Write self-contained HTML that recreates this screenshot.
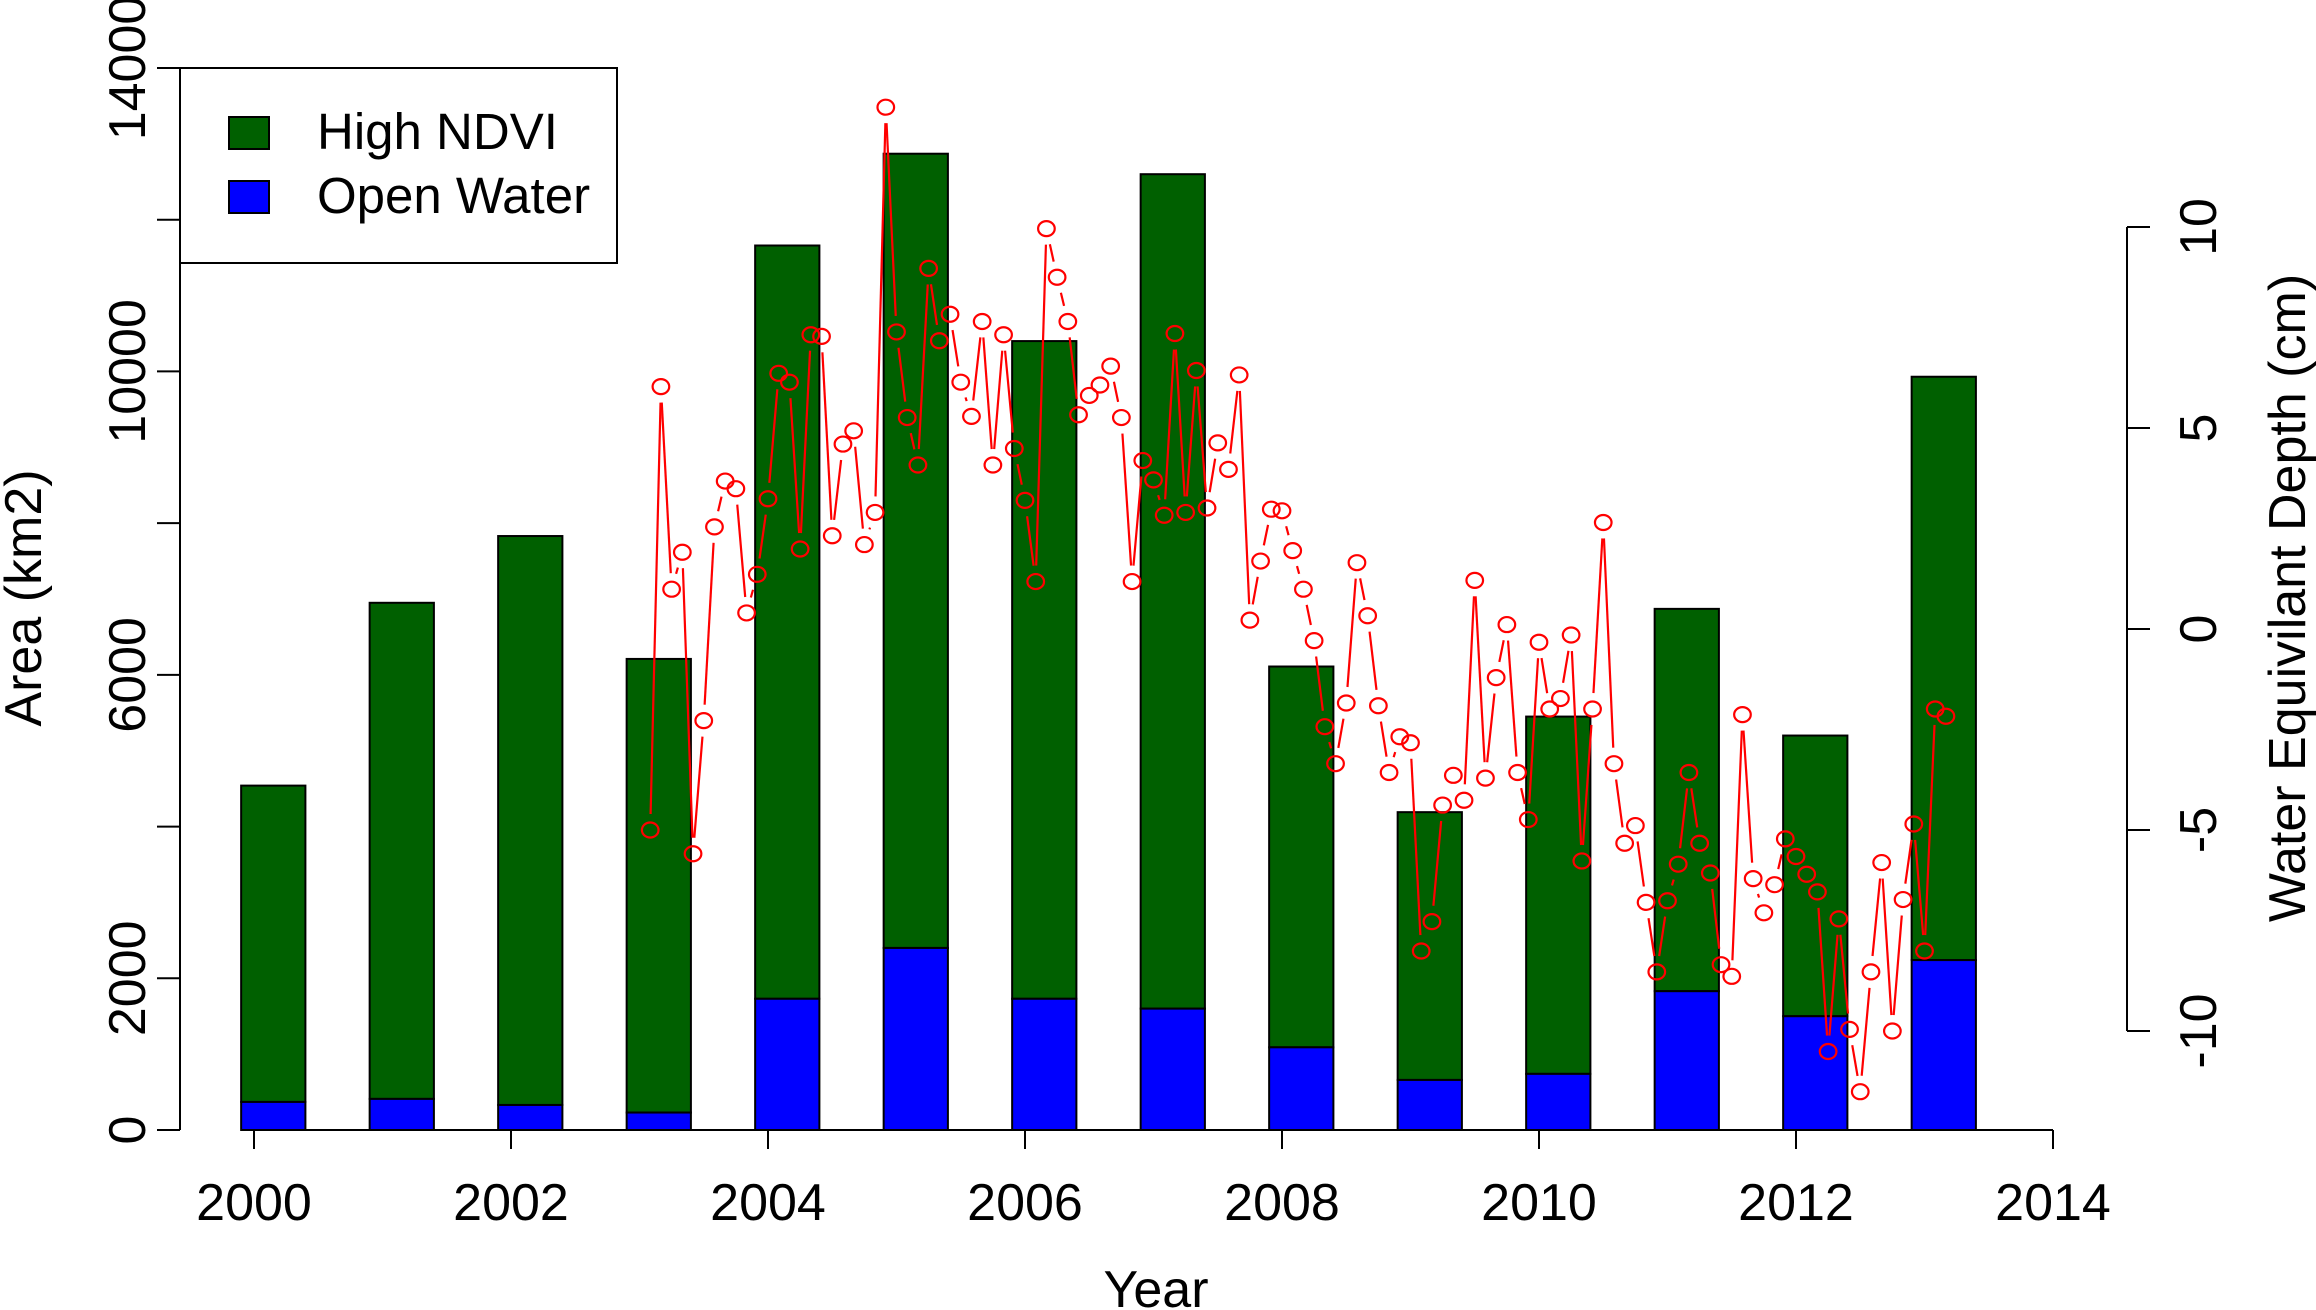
<!DOCTYPE html>
<html><head><meta charset="utf-8">
<style>
html,body{margin:0;padding:0;background:#fff;}
svg{display:block;font-family:"Liberation Sans",Arial,sans-serif;}
</style></head>
<body>
<svg id="chart" width="2316" height="1310" viewBox="0 0 2316 1310" xmlns="http://www.w3.org/2000/svg">
<g id="bars"></g>
<g id="series"></g>
<g id="axes"></g>
<g>
  <rect x="180" y="68" width="437" height="195" fill="#fff" stroke="#000" stroke-width="2"/>
  <rect x="229" y="117" width="40" height="32" fill="#006000" stroke="#000" stroke-width="2"/>
  <text x="317" y="149" font-size="51">High NDVI</text>
  <rect x="229" y="181" width="40" height="32" fill="#0000ff" stroke="#000" stroke-width="2"/>
  <text x="317" y="213" font-size="51">Open Water</text>
</g>
</svg>
<script>
const years = [2000,2001,2002,2003,2004,2005,2006,2007,2008,2009,2010,2011,2012,2013];
const totalArea = [4540,6950,7830,6210,11660,12870,10400,12600,6110,4190,5450,6870,5200,9930];
const openWater = [370,410,330,230,1730,2400,1730,1600,1090,660,740,1830,1500,2240];
const leftTicks = [0,2000,6000,10000,14000];
const leftTickMarks = [0,2000,4000,6000,8000,10000,12000,14000];
const xTicks = [2000,2002,2004,2006,2008,2010,2012,2014];
const rightTicks = [-10,-5,0,5,10];
const depthStart = 2003 + 1/12;
const depth = [-5.0,6.03,0.99,1.91,-5.59,-2.28,2.54,3.68,3.49,0.40,1.36,3.24,6.36,6.14,1.99,7.32,7.28,2.32,4.60,4.93,2.10,2.90,12.98,7.39,5.26,4.08,8.97,7.17,7.83,6.14,5.29,7.65,4.08,7.32,4.49,3.20,1.18,9.96,8.75,7.65,5.33,5.81,6.07,6.54,5.26,1.18,4.19,3.71,2.83,7.35,2.90,6.43,3.01,4.63,3.97,6.32,0.22,1.69,2.98,2.94,1.95,0.99,-0.29,-2.43,-3.35,-1.84,1.65,0.33,-1.91,-3.57,-2.68,-2.83,-8.01,-7.28,-4.38,-3.64,-4.26,1.21,-3.71,-1.21,0.11,-3.57,-4.74,-0.33,-1.99,-1.73,-0.15,-5.77,-1.99,2.65,-3.35,-5.33,-4.89,-6.80,-8.53,-6.76,-5.85,-3.57,-5.33,-6.07,-8.35,-8.64,-2.13,-6.21,-7.06,-6.36,-5.22,-5.66,-6.10,-6.54,-10.51,-7.21,-9.96,-11.51,-8.53,-5.81,-10.0,-6.73,-4.85,-8.01,-1.99,-2.17];

const NS="http://www.w3.org/2000/svg";
function X(t){return 254 + (t-2000)*(2053-254)/14;}
function YL(v){return 1130 - v*(1130-68)/14000;}
function YR(v){return 629 - v*(1031-227)/20;}
function mk(tag,attrs,parent){const e=document.createElementNS(NS,tag);for(const k in attrs)e.setAttribute(k,attrs[k]);parent.appendChild(e);return e;}

const gb=document.getElementById('bars');
years.forEach((y,i)=>{
  const x0=X(y-0.1), w=X(y+0.4)-x0;
  const g=mk('rect',{x:x0,y:YL(totalArea[i]),width:w,height:YL(openWater[i])-YL(totalArea[i]),fill:'#006000',stroke:'#000','stroke-width':2},gb);
  
  
  const b=mk('rect',{x:x0,y:YL(openWater[i]),width:w,height:YL(0)-YL(openWater[i]),fill:'#0000ff',stroke:'#000','stroke-width':2},gb);
  
  
});

const gs=document.getElementById('series');
const pts=depth.map((v,k)=>[X(depthStart+k/12),YR(v)]);
const r=7.5, gap=16;
for(let k=0;k<pts.length-1;k++){
  const [x1,y1]=pts[k],[x2,y2]=pts[k+1];
  const dx=x2-x1, dy=y2-y1, L=Math.hypot(dx,dy);
  if(L<=2*gap)continue;
  const ux=dx/L, uy=dy/L;
  const s=mk('line',{x1:x1+ux*gap,y1:y1+uy*gap,x2:x2-ux*gap,y2:y2-uy*gap,stroke:'#ff0000','stroke-width':2.2},gs);
  
  
}
pts.forEach(p=>{
  const c=mk('ellipse',{cx:p[0],cy:p[1],rx:r+0.8,ry:r,fill:'none',stroke:'#ff0000','stroke-width':2.2},gs);
  
  
});

const ga=document.getElementById('axes');
let e=mk('line',{x1:X(2000),y1:1130,x2:X(2014),y2:1130,stroke:'#000','stroke-width':2},ga);


xTicks.forEach(t=>{
  const tk=mk('line',{x1:X(t),y1:1130,x2:X(t),y2:1149,stroke:'#000','stroke-width':2},ga);
  
  
  const tl=mk('text',{x:X(t),y:1220,'font-size':52,'text-anchor':'middle'},ga);
  tl.textContent=t;
  
  
});
e=mk('text',{x:1156,y:1307,'font-size':52,'text-anchor':'middle'},ga);
e.textContent='Year';


e=mk('line',{x1:180,y1:YL(0),x2:180,y2:YL(14000),stroke:'#000','stroke-width':2},ga);


leftTickMarks.forEach(v=>{
  const tk=mk('line',{x1:157,y1:YL(v),x2:180,y2:YL(v),stroke:'#000','stroke-width':2},ga);
  
  
});
leftTicks.forEach(v=>{
  const tl=mk('text',{x:0,y:0,'font-size':52,'text-anchor':'middle',transform:`translate(145,${YL(v)}) rotate(-90)`},ga);
  tl.textContent=v;
  
  
});
e=mk('text',{x:0,y:0,'font-size':52,'text-anchor':'middle',transform:'translate(41,598) rotate(-90)'},ga);
e.textContent='Area (km2)';


e=mk('line',{x1:2127,y1:YR(-10),x2:2127,y2:YR(10),stroke:'#000','stroke-width':2},ga);


rightTicks.forEach(v=>{
  const tk=mk('line',{x1:2127,y1:YR(v),x2:2150,y2:YR(v),stroke:'#000','stroke-width':2},ga);
  
  
  const tl=mk('text',{x:0,y:0,'font-size':52,'text-anchor':'middle',transform:`translate(2216,${YR(v)}) rotate(-90)`},ga);
  tl.textContent=v;
  
  
});
e=mk('text',{x:0,y:0,'font-size':52,'text-anchor':'middle',transform:'translate(2305,598) rotate(-90)'},ga);
e.textContent='Water Equivilant Depth (cm)';


</script>
</body></html>
